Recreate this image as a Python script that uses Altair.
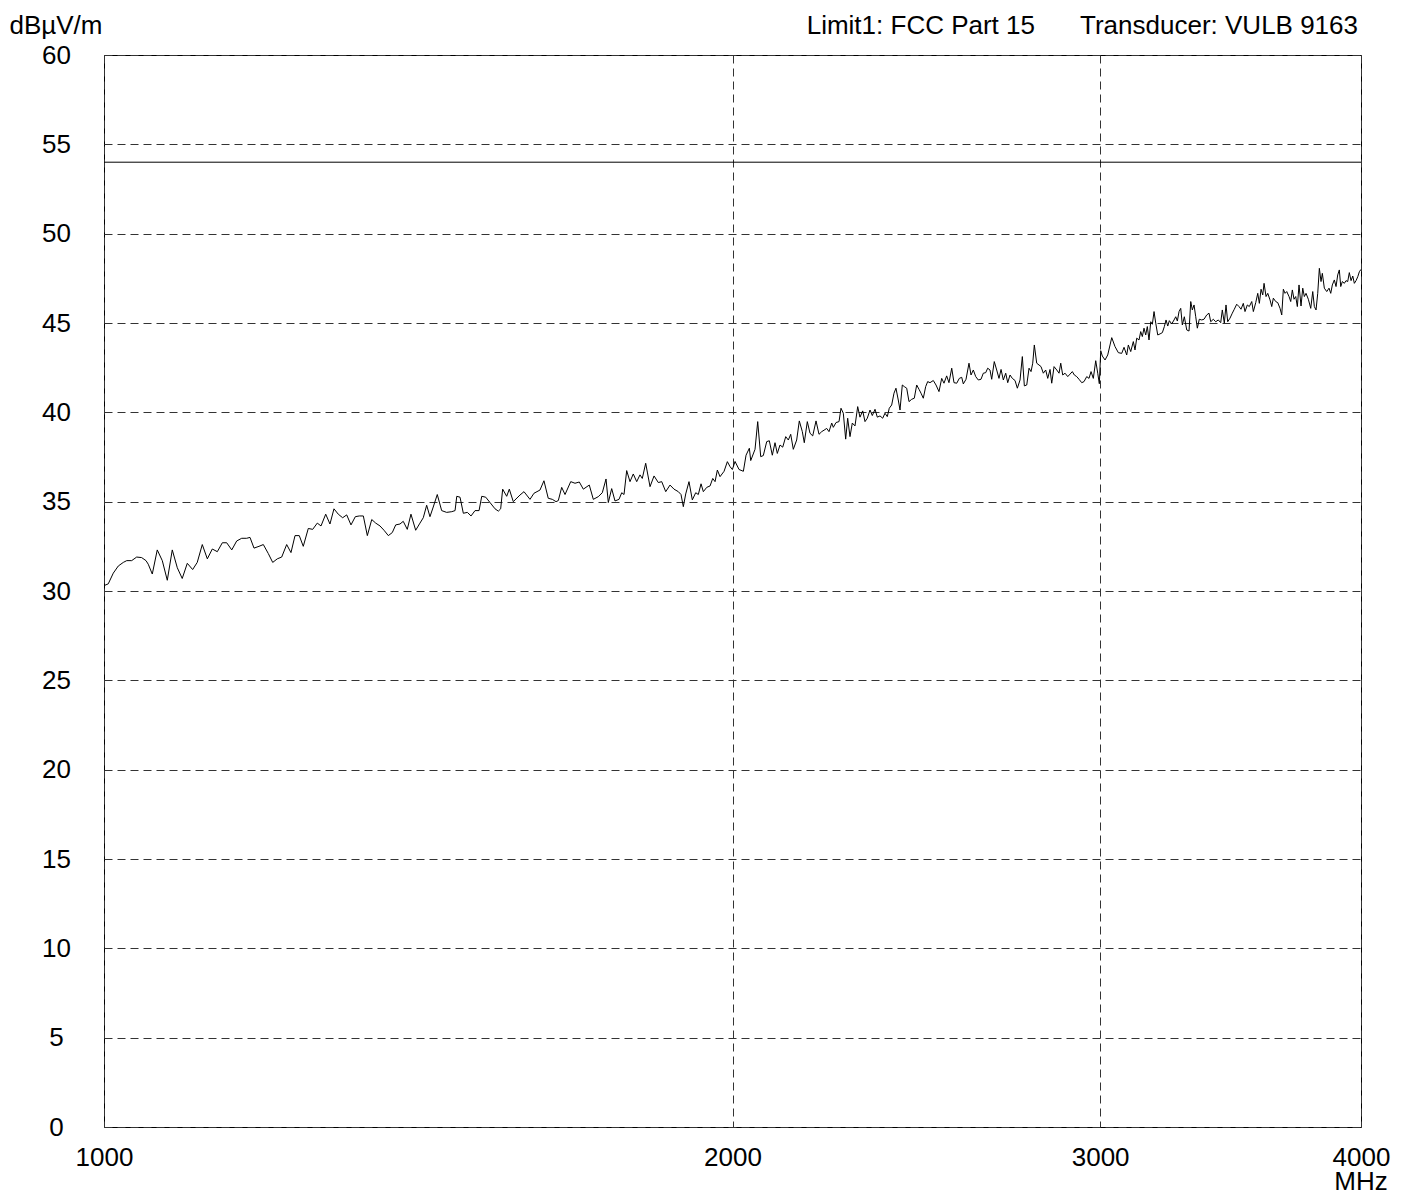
import altair as alt
import pandas as pd

# ---- data ----
FREQ_MHZ = [
    1000.0, 1004.7, 1010.3, 1015.9, 1021.5, 1025.4, 1031.0, 1036.7, 1042.4, 1047.4,
    1050.0, 1054.7, 1060.5, 1066.4, 1072.3, 1078.2, 1084.2, 1090.1, 1096.2, 1102.7,
    1108.3, 1114.5, 1120.7, 1126.9, 1133.1, 1139.4, 1144.9, 1151.3, 1157.6, 1164.0,
    1170.4, 1174.7, 1179.9, 1186.4, 1192.1, 1198.6, 1204.5, 1210.6, 1216.5, 1223.2,
    1229.0, 1234.5, 1240.3, 1245.8, 1252.7, 1258.8, 1265.2, 1270.4, 1277.0, 1283.0,
    1288.7, 1294.8, 1301.1, 1306.9, 1313.1, 1319.4, 1325.2, 1331.1, 1337.0, 1343.5,
    1349.4, 1355.8, 1361.8, 1368.3, 1374.3, 1379.5, 1386.0, 1391.0, 1397.2, 1402.9,
    1410.2, 1416.9, 1422.1, 1427.4, 1432.6, 1437.8, 1444.2, 1451.2, 1459.2, 1467.5,
    1472.8, 1475.6, 1480.9, 1486.3, 1492.9, 1499.0, 1505.6, 1512.3, 1516.8, 1523.5,
    1530.7, 1539.2, 1544.8, 1548.8, 1552.2, 1559.1, 1563.6, 1570.5, 1582.1, 1589.1,
    1599.7, 1606.7, 1617.4, 1624.5, 1632.2, 1639.6, 1646.3, 1650.4, 1656.6, 1662.7,
    1673.2, 1681.1, 1689.1, 1696.6, 1707.8, 1715.4, 1724.8, 1732.5, 1739.6, 1744.0,
    1750.5, 1756.9, 1764.7, 1770.0, 1774.5, 1779.7, 1786.2, 1792.7, 1799.5, 1806.0,
    1810.6, 1817.4, 1826.1, 1834.2, 1842.9, 1849.8, 1858.0, 1866.8, 1875.1, 1884.0,
    1889.6, 1894.4, 1899.4, 1906.3, 1913.3, 1920.5, 1926.0, 1931.8, 1936.7, 1944.0,
    1951.1, 1956.9, 1961.9, 1966.9, 1972.7, 1981.5, 1988.7, 1994.6, 1999.7, 2005.6,
    2014.5, 2024.1, 2030.1, 2037.5, 2040.6, 2050.3, 2056.4, 2063.2, 2069.1, 2076.9,
    2082.9, 2089.8, 2096.0, 2101.3, 2107.6, 2113.9, 2120.9, 2127.0, 2132.6, 2138.7,
    2146.7, 2152.9, 2160.1, 2164.8, 2172.0, 2178.5, 2185.0, 2193.0, 2200.2, 2206.8,
    2212.4, 2219.0, 2224.6, 2231.3, 2235.2, 2241.9, 2249.3, 2254.2, 2260.0, 2265.9,
    2270.9, 2276.7, 2282.5, 2289.3, 2296.1, 2301.9, 2308.8, 2314.7, 2320.6, 2327.5,
    2333.4, 2340.4, 2346.3, 2353.3, 2360.3, 2366.3, 2372.3, 2377.5, 2383.8, 2389.9,
    2395.1, 2401.2, 2405.8, 2411.9, 2417.2, 2423.6, 2429.8, 2437.0, 2444.0, 2450.5,
    2456.7, 2462.2, 2468.4, 2474.9, 2480.4, 2486.7, 2495.8, 2503.2, 2511.5, 2519.0,
    2525.4, 2532.9, 2539.3, 2547.0, 2553.4, 2561.1, 2568.4, 2575.2, 2579.8, 2587.5,
    2596.0, 2601.8, 2608.4, 2615.3, 2622.8, 2630.6, 2637.3, 2644.3, 2650.1, 2656.8,
    2661.8, 2669.4, 2676.5, 2683.3, 2689.4, 2696.2, 2703.3, 2709.3, 2716.2, 2723.1,
    2731.2, 2738.2, 2746.3, 2753.3, 2759.4, 2766.7, 2773.7, 2779.8, 2785.0, 2789.9,
    2797.3, 2804.4, 2810.6, 2817.8, 2825.2, 2831.5, 2838.7, 2844.0, 2851.3, 2859.8,
    2867.0, 2872.4, 2878.7, 2886.1, 2894.7, 2902.0, 2909.4, 2915.8, 2923.5, 2930.9,
    2939.7, 2947.1, 2955.9, 2963.4, 2970.0, 2977.5, 2985.4, 2992.0, 2997.3, 3001.9,
    3007.2, 3016.2, 3025.2, 3032.9, 3038.6, 3049.6, 3060.8, 3072.2, 3080.1, 3089.2,
    3094.7, 3102.9, 3111.8, 3117.6, 3123.5, 3131.4, 3137.3, 3142.8, 3148.7, 3154.6,
    3160.2, 3166.1, 3172.2, 3177.8, 3183.7, 3189.7, 3196.7, 3204.9, 3213.0, 3220.1,
    3226.1, 3232.2, 3237.9, 3246.5, 3254.7, 3260.8, 3266.6, 3272.7, 3278.8, 3284.6,
    3291.9, 3300.6, 3309.0, 3315.2, 3321.0, 3327.3, 3333.5, 3339.4, 3346.7, 3355.6,
    3364.1, 3374.1, 3382.7, 3389.1, 3398.8, 3407.8, 3417.6, 3426.6, 3432.7, 3440.3,
    3446.7, 3453.2, 3461.9, 3470.7, 3478.4, 3487.6, 3496.5, 3504.2, 3513.1, 3519.7,
    3528.6, 3536.4, 3545.9, 3552.2, 3561.6, 3569.5, 3575.8, 3582.5, 3589.2, 3594.4,
    3602.3, 3609.1, 3618.2, 3625.0, 3631.4, 3641.0, 3649.1, 3658.3, 3665.2, 3671.7,
    3678.6, 3685.5, 3694.8, 3701.7, 3708.3, 3715.2, 3722.2, 3728.8, 3735.7, 3744.0,
    3751.1, 3757.7, 3764.7, 3774.3, 3784.3, 3792.7, 3799.4, 3806.5, 3813.6, 3820.4,
    3827.5, 3833.0, 3841.5, 3851.7, 3861.4, 3868.7, 3875.5, 3884.1, 3891.3, 3898.6,
    3905.5, 3911.6, 3918.5, 3927.1, 3934.5, 3941.8, 3948.8, 3956.4, 3963.8, 3970.8,
    3978.2, 3985.7, 3992.8, 4000.0,
]

LEVEL_DBUV = [
    30.30, 30.40, 31.00, 31.40, 31.60, 31.70, 31.70, 31.90, 31.87, 31.70,
    31.50, 30.95, 32.30, 31.70, 30.60, 32.30, 31.30, 30.70, 31.55, 31.20,
    31.60, 32.60, 31.80, 32.35, 32.20, 32.70, 32.70, 32.30, 32.80, 32.95,
    32.95, 33.00, 32.40, 32.50, 32.60, 32.10, 31.60, 31.80, 31.90, 32.60,
    32.15, 33.10, 33.10, 32.50, 33.50, 33.45, 33.80, 33.64, 34.30, 33.75,
    34.60, 34.30, 34.10, 34.26, 33.70, 34.16, 34.20, 34.20, 33.10, 34.00,
    33.80, 33.64, 33.40, 33.10, 33.27, 33.70, 33.75, 33.90, 33.45, 34.30,
    33.40, 33.80, 34.10, 34.80, 34.16, 34.70, 35.40, 34.50, 34.40, 34.44,
    34.50, 35.30, 35.25, 34.35, 34.40, 34.20, 34.50, 34.50, 35.30, 35.25,
    34.95, 34.60, 34.47, 34.60, 35.70, 35.30, 35.70, 35.00, 35.37, 35.56,
    35.13, 35.47, 35.65, 36.17, 35.19, 35.13, 35.00, 35.06, 35.80, 35.40,
    36.12, 36.03, 36.10, 35.70, 35.93, 35.13, 35.28, 35.50, 36.27, 34.95,
    35.73, 35.04, 35.13, 35.50, 35.40, 36.74, 36.12, 36.55, 36.12, 36.50,
    36.30, 37.15, 35.84, 36.44, 36.07, 36.12, 35.56, 35.93, 35.70, 35.56,
    35.40, 34.72, 35.43, 36.12, 35.10, 35.50, 35.40, 36.00, 35.56, 35.80,
    35.88, 36.30, 36.12, 36.77, 36.40, 36.70, 37.24, 36.96, 36.80, 37.25,
    36.80, 36.70, 37.60, 37.99, 37.30, 37.93, 39.48, 37.52, 37.58, 38.36,
    38.41, 37.60, 38.30, 37.70, 38.17, 38.05, 38.64, 38.45, 38.77, 37.93,
    38.45, 39.52, 38.92, 38.30, 39.48, 38.83, 38.68, 39.52, 38.77, 38.92,
    39.00, 39.10, 38.92, 39.40, 39.16, 39.43, 39.48, 40.23, 39.95, 38.50,
    39.67, 38.64, 39.40, 39.24, 40.32, 39.73, 40.08, 39.48, 39.67, 40.13,
    39.82, 40.17, 39.73, 39.80, 39.67, 39.95, 39.76, 40.23, 40.41, 41.07,
    41.35, 40.69, 40.13, 41.53, 41.44, 41.35, 40.60, 40.73, 40.79, 41.53,
    41.29, 41.07, 40.79, 41.44, 41.72, 41.66, 41.78, 41.53, 41.16, 41.90,
    41.63, 42.04, 41.66, 42.47, 41.66, 41.63, 41.90, 41.96, 41.59, 41.85,
    42.75, 42.09, 42.37, 42.00, 41.81, 41.85, 42.19, 42.22, 42.47, 42.37,
    41.85, 42.84, 42.37, 41.90, 42.40, 41.81, 42.19, 41.66, 42.09, 41.90,
    41.78, 41.35, 41.81, 43.12, 41.48, 41.53, 42.47, 42.28, 42.75, 43.77,
    42.75, 42.65, 42.56, 42.19, 42.37, 41.90, 42.40, 41.63, 42.56, 42.37,
    42.19, 42.75, 42.09, 42.19, 42.00, 42.14, 42.28, 42.09, 42.00, 41.85,
    41.66, 41.72, 42.00, 41.90, 42.28, 41.90, 42.89, 42.19, 41.60, 43.45,
    43.15, 42.93, 43.21, 43.77, 44.18, 43.68, 43.34, 43.30, 43.64, 43.21,
    43.77, 43.40, 43.96, 43.49, 44.15, 44.05, 44.52, 44.24, 44.71, 44.33,
    44.80, 44.05, 45.07, 44.93, 45.64, 44.99, 44.33, 44.39, 44.46, 44.80,
    45.17, 44.83, 45.13, 44.95, 45.17, 45.35, 45.11, 45.64, 45.82, 44.89,
    45.35, 44.61, 44.55, 46.20, 45.73, 46.01, 45.35, 44.71, 45.21, 45.17,
    45.21, 45.45, 45.55, 45.07, 45.21, 45.07, 45.17, 45.02, 45.73, 44.99,
    46.01, 45.07, 45.27, 45.55, 45.77, 46.05, 45.92, 45.77, 46.10, 45.64,
    46.01, 45.92, 46.20, 45.64, 46.14, 46.66, 46.10, 46.89, 46.57, 47.22,
    46.48, 46.66, 46.29, 45.92, 46.39, 46.20, 46.14, 45.82, 45.45, 46.89,
    46.66, 46.76, 46.48, 46.20, 46.85, 46.33, 46.48, 45.92, 47.13, 45.95,
    46.95, 46.48, 46.66, 46.33, 45.82, 46.76, 45.92, 45.73, 46.66, 48.06,
    47.32, 47.78, 46.95, 46.76, 46.95, 46.66, 47.13, 47.41, 47.04, 47.69,
    47.97, 47.04, 47.32, 47.22, 47.37, 47.32, 47.82, 47.37, 47.63, 47.22,
    47.37, 47.59, 47.87, 48.00,
]

LIMIT_LEVEL = [54]
X_TICKS = [1000, 2000, 3000, 4000]
Y_TICKS = [0, 5, 10, 15, 20, 25, 30, 35, 40, 45, 50, 55, 60]
HEADER_LIMIT = "Limit1: FCC Part 15"
HEADER_TRANSDUCER = "Transducer: VULB 9163"
Y_UNIT = "dBµV/m"
X_UNIT = "MHz"

# ---- styling ----
FONT = "Liberation Sans"
FS = 26
W, H = 1257, 1072

df = pd.DataFrame({"f": FREQ_MHZ, "v": LEVEL_DBUV})

x_enc = alt.X(
    "f:Q",
    scale=alt.Scale(type="log", domain=[1000, 4000], nice=False),
    axis=alt.Axis(
        values=X_TICKS, format="d", title=None, grid=True,
        gridDash=[8, 5], gridColor="#333333", gridWidth=1,
        domain=False, ticks=False, labelPadding=17,
        labelFont=FONT, labelFontSize=FS, labelColor="black",
        labelFlush=False, labelOverlap=False,
    ),
)
y_enc = alt.Y(
    "v:Q",
    scale=alt.Scale(domain=[0, 60], nice=False, zero=False),
    axis=alt.Axis(
        values=Y_TICKS, title=None, grid=True,
        gridDash=[8, 5], gridColor="#333333", gridWidth=1,
        domain=False, ticks=False, labelPadding=48,
        labelAlign="center", labelBaseline="middle",
        labelFont=FONT, labelFontSize=FS, labelColor="black",
        labelFlush=False, labelOverlap=False,
    ),
)

trace = alt.Chart(df).mark_line(color="black", strokeWidth=1).encode(x=x_enc, y=y_enc)

limit = alt.Chart(pd.DataFrame({"v": LIMIT_LEVEL})).mark_rule(
    color="black", strokeWidth=1
).encode(y=alt.Y("v:Q"))


def label(text, xpos, ypos, align):
    return alt.Chart(pd.DataFrame({"t": [text]})).mark_text(
        font=FONT, fontSize=FS, color="black", align=align, baseline="alphabetic"
    ).encode(text="t:N", x=alt.value(xpos), y=alt.value(ypos))


t_y = label(Y_UNIT, -48, -21, "center")
t_lim = label(HEADER_LIMIT, 931, -21, "right")
t_tr = label(HEADER_TRANSDUCER, 1254, -21, "right")
t_x = label(X_UNIT, W, H + 63, "center")

chart = (
    alt.layer(trace, limit, t_y, t_lim, t_tr, t_x)
    .properties(
        width=W,
        height=H,
        autosize=alt.AutoSizeParams(type="none"),
        padding={"left": 96, "top": 47, "right": 32, "bottom": 72},
        background="white",
    )
    .configure_view(stroke="black", strokeWidth=1)
)

chart.save("out.html", embed_options={"renderer": "svg", "actions": False})
